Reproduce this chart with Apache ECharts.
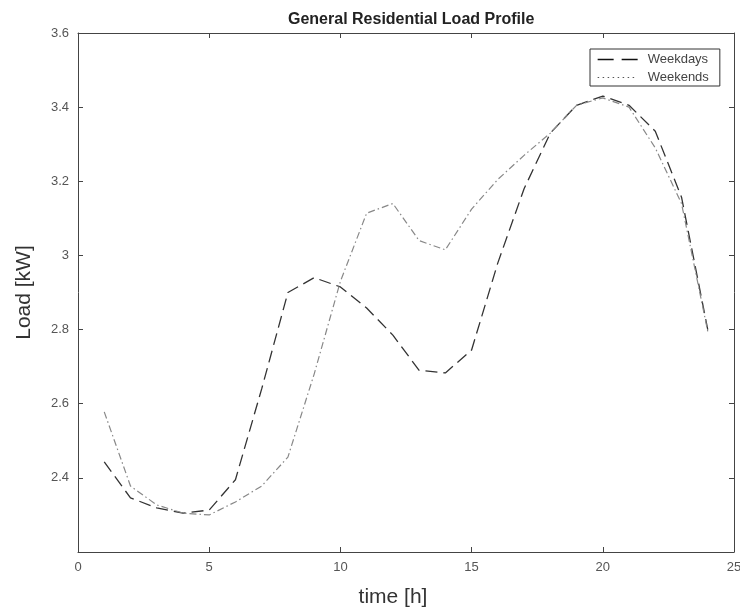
<!DOCTYPE html>
<html>
<head>
<meta charset="utf-8">
<script src="https://cdn.jsdelivr.net/npm/echarts@6/dist/echarts.min.js"></script>
<style>html,body{margin:0;padding:0;background:#fff}#c{width:740px;height:610px}</style>
</head>
<body>
<div id="c"></div>
<script>
const hours = [1,2,3,4,5,6,7,8,9,10,11,12,13,14,15,16,17,18,19,20,21,22,23,24];
const weekdays = [2.443,2.346,2.319,2.305,2.313,2.395,2.64,2.90,2.94,2.915,2.858,2.785,2.69,2.683,2.745,2.98,3.18,3.33,3.405,3.43,3.405,3.335,3.157,2.80];
const weekends = [2.578,2.378,2.327,2.305,2.300,2.335,2.378,2.456,2.68,2.93,3.114,3.14,3.04,3.015,3.125,3.205,3.27,3.33,3.405,3.425,3.40,3.29,3.14,2.795];
const xTicks = [0,5,10,15,20,25];
const yTicks = [2.2,2.4,2.6,2.8,3.0,3.2,3.4,3.6];

const axisCol = '#444';
const fmtY = v => { const r = Number(v.toFixed(1)); return Math.abs(r - 2.2) < 1e-6 ? '' : String(r); };
const pairs = (xs, ys) => xs.map((x,i)=>[x, ys[i]]);

const chart = echarts.init(document.getElementById('c'), null, {renderer:'canvas'});
chart.setOption({
  backgroundColor:'#fff',
  animation:false,
  title:{text:'General Residential Load Profile', left:283, top:7,
    textStyle:{fontFamily:'Liberation Sans', fontSize:16, fontWeight:'bold', color:'#222'}},
  legend:{
    orient:'vertical', left:590, top:49, backgroundColor:'#fff',
    borderColor:'#333', borderWidth:1, padding:[4,11,2,7], itemGap:5,
    itemWidth:40, itemHeight:13,
    textStyle:{fontFamily:'Liberation Sans', fontSize:13, color:'#444', padding:[0,0,0,5]},
    data:[
      {name:'Weekdays', itemStyle:{opacity:0}, lineStyle:{color:'#111', type:[16,8], width:1.3}},
      {name:'Weekends', itemStyle:{opacity:0}, lineStyle:{color:'#555', type:[1.5,3.5], width:1}}
    ]
  },
  grid:{left:78, right:6, top:33, bottom:58, outerBoundsMode:'none', containLabel:false},
  xAxis:[{
    type:'value', min:0, max:25, interval:5,
    name:'time [h]', nameLocation:'middle', nameGap:35,
    nameTextStyle:{fontFamily:'Liberation Sans', fontSize:21, color:'#333', padding:[0,26,0,0]},
    axisLine:{lineStyle:{color:axisCol, width:1}},
    axisTick:{inside:true, length:5, lineStyle:{color:axisCol}},
    axisLabel:{fontFamily:'Liberation Sans', fontSize:13, color:'#555', margin:9},
    splitLine:{show:false}
  },{
    type:'value', min:0, max:25, interval:5, position:'top',
    axisLine:{onZero:false, lineStyle:{color:axisCol, width:1}},
    axisTick:{inside:true, length:5, lineStyle:{color:axisCol}},
    axisLabel:{show:false}, splitLine:{show:false}
  }],
  yAxis:[{
    type:'value', min:2.2, max:3.6, interval:0.2,
    name:'Load [kW]', nameLocation:'middle', nameGap:43,
    nameTextStyle:{fontFamily:'Liberation Sans', fontSize:21, color:'#333'},
    axisLine:{show:true, lineStyle:{color:axisCol, width:1}},
    axisTick:{show:true, inside:true, length:5, lineStyle:{color:axisCol}},
    axisLabel:{fontFamily:'Liberation Sans', fontSize:13, color:'#555', margin:9, formatter:fmtY},
    splitLine:{show:false}
  },{
    type:'value', min:2.2, max:3.6, interval:0.2, position:'right',
    axisLine:{show:true, onZero:false, lineStyle:{color:axisCol, width:1}},
    axisTick:{show:true, inside:true, length:5, lineStyle:{color:axisCol}},
    axisLabel:{show:false}, splitLine:{show:false}
  }],
  series:[
    {name:'Weekdays', type:'line', data:pairs(hours, weekdays), symbol:'none',
      lineStyle:{color:'#333', width:1.3, type:[12,6]}, itemStyle:{color:'#333'}},
    {name:'Weekends', type:'line', data:pairs(hours, weekends), symbol:'none',
      lineStyle:{color:'#888', width:1.2, type:[7,3,1.5,3]}, itemStyle:{color:'#888'}}
  ]
});
</script>
</body>
</html>
